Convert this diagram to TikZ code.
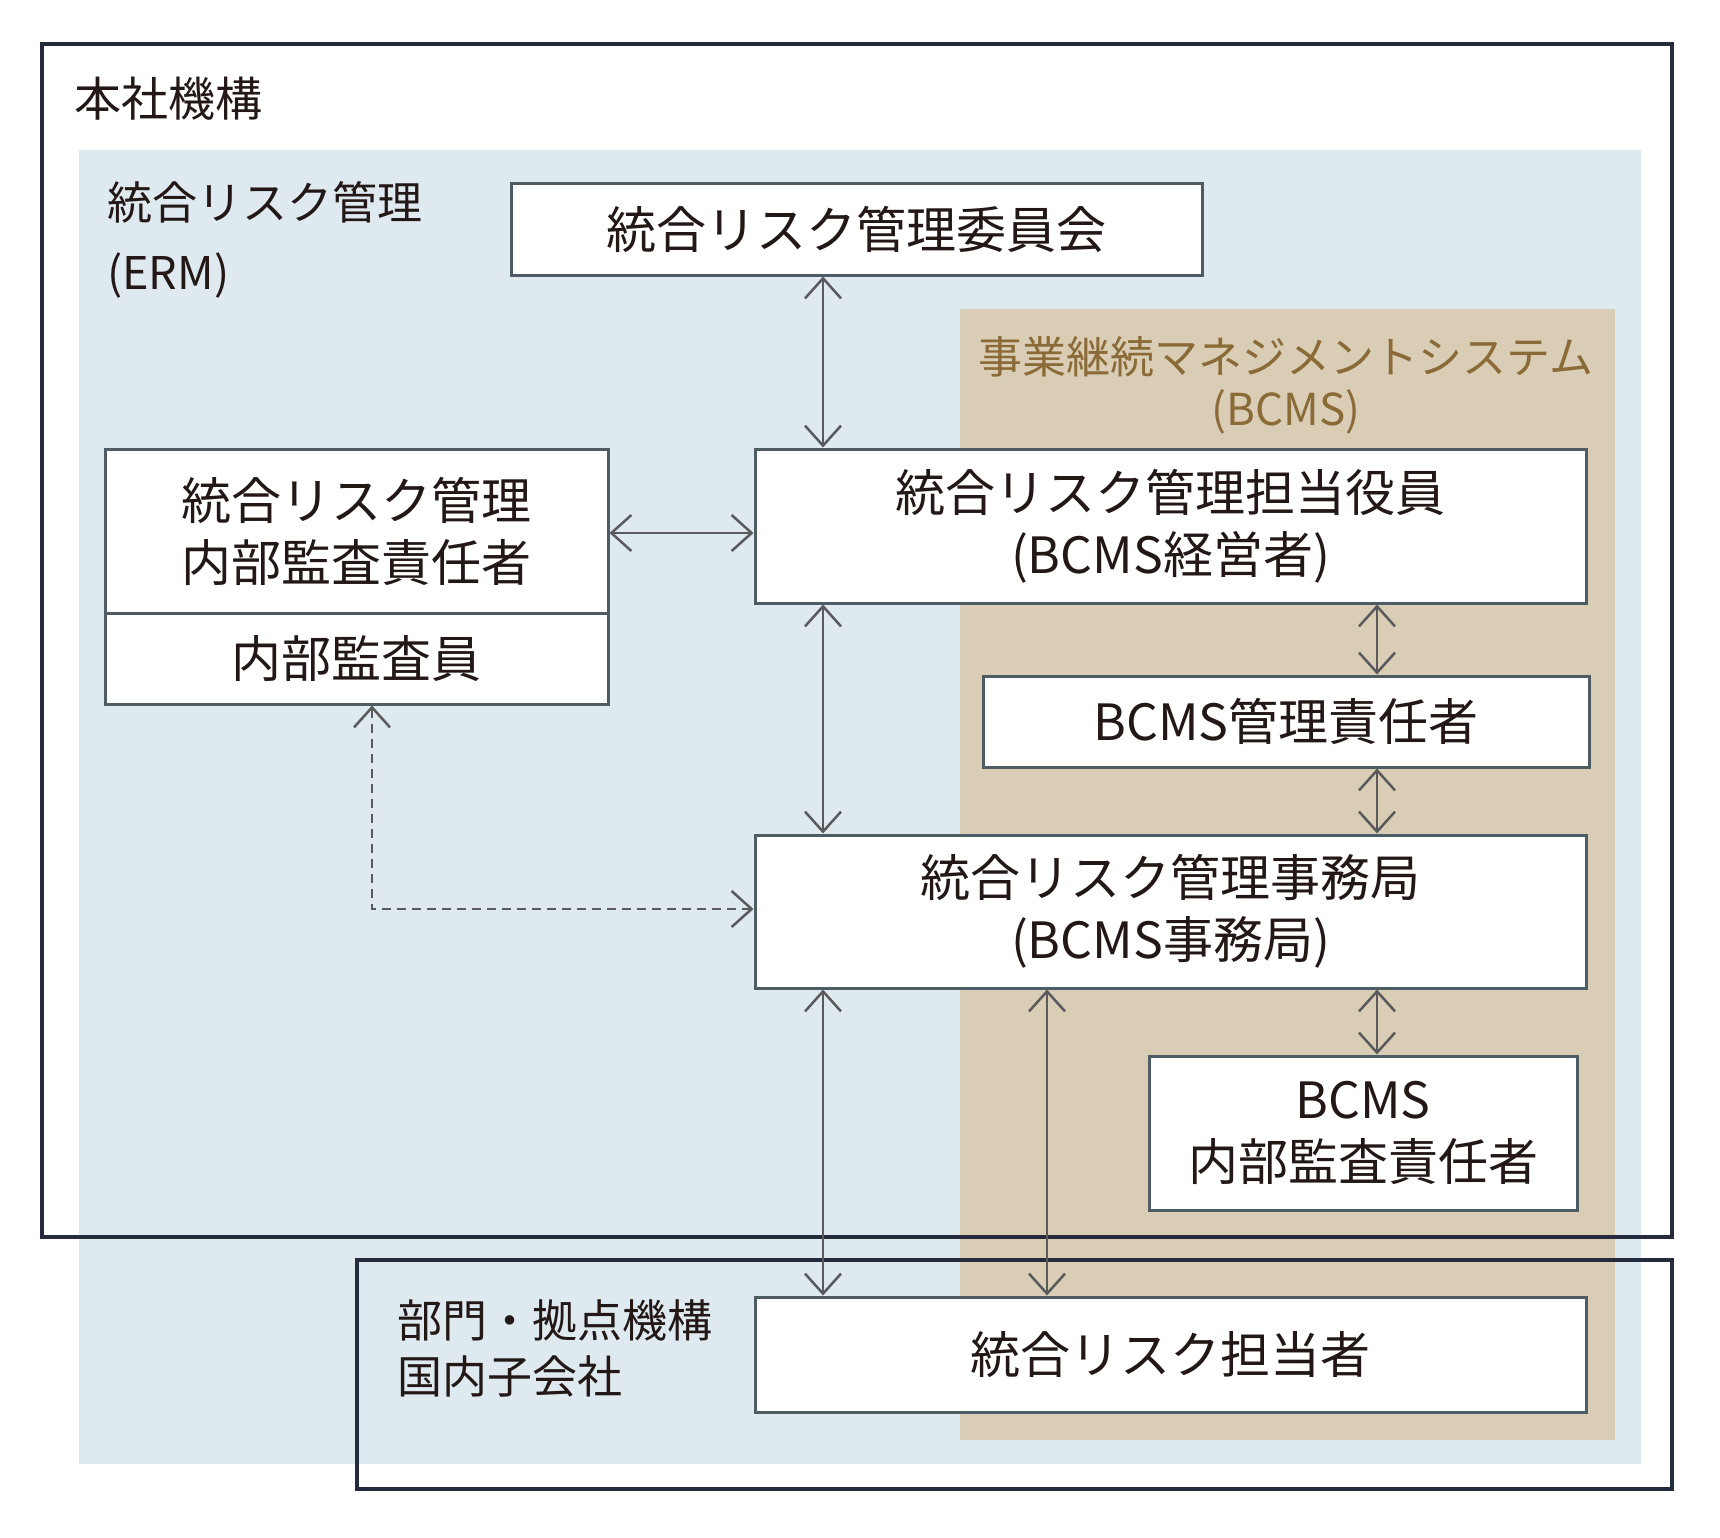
\documentclass[tikz,border=0pt]{standalone}
\usepackage{fontspec}
\setmainfont{Noto Sans CJK JP}
\usetikzlibrary{arrows.meta}
\definecolor{ermblue}{HTML}{DFE9F0}
\definecolor{bcmstan}{HTML}{D9CDB5}
\definecolor{bcmstitle}{HTML}{8A6A36}
\definecolor{navy}{HTML}{232B3D}
\definecolor{boxline}{HTML}{4E5C64}
\definecolor{arrowgray}{HTML}{5A5A5C}
\definecolor{txt}{HTML}{231815}
\begin{document}
\begin{tikzpicture}[x=1pt,y=-1pt,
  frame/.style={draw=navy,line width=3.8pt},
  box/.style={draw=boxline,line width=3pt,fill=white,inner sep=0pt,text=txt,
    align=center,font=\fontsize{50}{62}\selectfont},
  arr/.style={draw=arrowgray,line width=2.5pt,
    {Straight Barb[length=20pt,width=36pt]}-{Straight Barb[length=20pt,width=36pt]}},
  dasharr/.style={arr,dash pattern=on 9pt off 6pt},
  lbl/.style={inner sep=0pt,text=txt,font=\fontsize{45}{66}\selectfont}
]
\useasboundingbox (0,0) rectangle (1720,1538);
\fill[white] (0,0) rectangle (1720,1538);
% regions
\fill[ermblue] (79,150) rectangle (1641,1464);
\fill[bcmstan] (960,309) rectangle (1615,1440);
% frames
\draw[frame] (42,44) rectangle (1672,1237);
\draw[frame] (357,1260) rectangle (1672,1489);
% labels
\node[lbl,anchor=west,font=\fontsize{47}{60}\selectfont] (hq) at (74,99) {本社機構};
\node[lbl,anchor=west,align=left,font=\fontsize{45}{70}\selectfont] (erm) at (107,240) {統合リスク管理\\(ERM)};
\node[lbl,align=center,text=bcmstitle,font=\fontsize{44}{52}\selectfont] (bcms) at (1286,385)
  {事業継続マネジメントシステム\\(BCMS)};
\node[lbl,anchor=west,align=left,font=\fontsize{45}{56}\selectfont] (dept) at (397,1348)
  {部門・拠点機構\\国内子会社};
% boxes
\node[box,minimum width=691pt,minimum height=91pt] (comm) at (856.5,229.5) {統合リスク管理委員会};
\node[box,minimum width=503pt,minimum height=164pt] (aud1) at (356.5,531) {統合リスク管理\\内部監査責任者};
\node[box,minimum width=503pt,minimum height=91pt] (aud2) at (356.5,658.5) {内部監査員};
\node[box,minimum width=831pt,minimum height=154pt] (exec) at (1170.5,526) {統合リスク管理担当役員\\(BCMS経営者)};
\node[box,minimum width=606pt,minimum height=91pt] (mgr) at (1286,721.5) {BCMS管理責任者};
\node[box,minimum width=831pt,minimum height=153pt] (sec) at (1170.5,911.5) {統合リスク管理事務局\\(BCMS事務局)};
\node[box,minimum width=428pt,minimum height=154pt] (iaud) at (1363,1133) {BCMS\\内部監査責任者};
\node[box,minimum width=831pt,minimum height=115pt] (rep) at (1170.5,1354.5) {統合リスク担当者};
% connector helpers
\coordinate (xa) at (823,0);
\coordinate (xb) at (1047,0);
\coordinate (xc) at (1377,0);
\coordinate (hy) at (0,533);
\coordinate (dd) at (372,909);
% connectors
\draw[arr] (comm.south -| xa) -- (exec.north -| xa);
\draw[arr] (aud1.east |- hy) -- (exec.west |- hy);
\draw[arr] (exec.south -| xa) -- (sec.north -| xa);
\draw[arr] (exec.south -| xc) -- (mgr.north -| xc);
\draw[arr] (mgr.south -| xc) -- (sec.north -| xc);
\draw[arr] (sec.south -| xc) -- (iaud.north -| xc);
\draw[arr] (sec.south -| xa) -- (rep.north -| xa);
\draw[arr] (sec.south -| xb) -- (rep.north -| xb);
\draw[dasharr] (aud2.south -| dd) -- (dd) -- (dd -| sec.west);
\end{tikzpicture}
\end{document}
